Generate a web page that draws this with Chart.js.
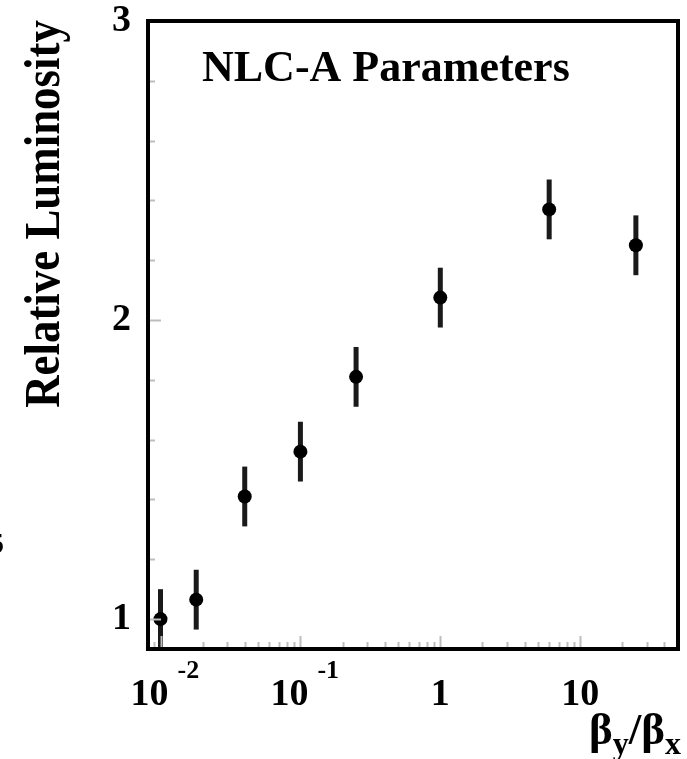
<!DOCTYPE html>
<html><head><meta charset="utf-8">
<script src="https://cdn.jsdelivr.net/npm/chart.js@4/dist/chart.umd.min.js"></script>
<style>html,body{margin:0;padding:0;background:#fff;overflow:hidden}canvas{display:block}</style>
</head><body>
<canvas id="c" width="687" height="759"></canvas>
<script>
// ---- data ----
const betaRatio   = [0.01, 0.018, 0.04, 0.1, 0.25, 1, 6, 25];          // beta_y / beta_x
const luminosity  = [1.0, 1.065, 1.41, 1.56, 1.81, 2.075, 2.37, 2.25];  // relative luminosity
const lumError    = [0.1, 0.1, 0.1, 0.1, 0.1, 0.1, 0.1, 0.1];
const yTickValues = [1, 2, 3];
const yTickLabels = ['1', '2', '3'];
const xTickValues = [0.01, 0.1, 1, 10];
const xTickBases  = ['10', '10', '1', '10'];
const xTickExps   = ['-2', '-1', '', ''];
const panelTitle  = 'NLC-A Parameters';
const yAxisTitle  = 'Relative Luminosity';
const yMinorStep  = 0.2;

const SERIF = "'Liberation Serif', 'Times New Roman', serif";

const decor = {
  id: 'decor',
  beforeDatasetsDraw(chart) {
    const {ctx, chartArea: a, scales: {x, y}} = chart;
    ctx.save();
    ctx.beginPath();
    ctx.rect(a.left, a.top, a.right - a.left, a.bottom - a.top);
    ctx.clip();
    ctx.strokeStyle = '#1a1a1a';
    ctx.lineWidth = 5;
    ctx.lineCap = 'butt';
    betaRatio.forEach((bx, i) => {
      const px = x.getPixelForValue(bx);
      ctx.beginPath();
      ctx.moveTo(px, y.getPixelForValue(luminosity[i] - lumError[i]));
      ctx.lineTo(px, y.getPixelForValue(luminosity[i] + lumError[i]));
      ctx.stroke();
    });
    ctx.restore();
  },
  afterDraw(chart) {
    const {ctx, chartArea: a, scales: {x, y}} = chart;
    ctx.save();
    // inside ticks
    ctx.strokeStyle = '#bdbdbd';
    ctx.lineWidth = 2;
    for (let e = -3; e <= 2; e++) {
      for (let k = 1; k <= 9; k++) {
        const v = k * Math.pow(10, e);
        if (v < x.min || v > x.max) continue;
        const px = Math.round(x.getPixelForValue(v)) + 0.5;
        const len = k === 1 ? 13 : 7;
        ctx.beginPath(); ctx.moveTo(px, a.bottom); ctx.lineTo(px, a.bottom - len); ctx.stroke();
      }
    }
    for (let v = yTickValues[0]; v <= y.max + 1e-9; v += yMinorStep) {
      const vv = Math.round(v * 10) / 10;
      const py = Math.round(y.getPixelForValue(vv)) + 0.5;
      const len = Math.abs(vv - Math.round(vv)) < 1e-6 ? 13 : 7;
      ctx.beginPath(); ctx.moveTo(a.left, py); ctx.lineTo(a.left + len, py); ctx.stroke();
    }
    // frame
    ctx.strokeStyle = '#000';
    ctx.lineWidth = 4;
    ctx.strokeRect(a.left, a.top, a.right - a.left, a.bottom - a.top);

    // x tick labels with exponents
    ctx.fillStyle = '#000';
    ctx.textBaseline = 'alphabetic';
    xTickValues.forEach((v, i) => {
      const px = x.getPixelForValue(v);
      ctx.font = 'bold 38px ' + SERIF;
      if (xTickExps[i]) {
        ctx.textAlign = 'right';
        ctx.fillText(xTickBases[i], px + 8, 705);
        ctx.font = 'bold 26px ' + SERIF;
        ctx.textAlign = 'left';
        ctx.fillText(xTickExps[i], px + 17, 678);
      } else {
        ctx.textAlign = 'center';
        ctx.fillText(xTickBases[i], px, 705);
      }
    });

    // x axis title: beta_y / beta_x
    const parts = [
      {t: '\u03B2', f: 'bold 45px ', dy: 0},
      {t: 'y', f: 'bold 32px ', dy: 10},
      {t: '/', f: 'bold 45px ', dy: 0},
      {t: '\u03B2', f: 'bold 45px ', dy: 0},
      {t: 'x', f: 'bold 32px ', dy: 10}
    ];
    let total = 0;
    parts.forEach(p => { ctx.font = p.f + SERIF; p.w = ctx.measureText(p.t).width; total += p.w; });
    let cx = 681 - total;
    ctx.textAlign = 'left';
    parts.forEach(p => { ctx.font = p.f + SERIF; ctx.fillText(p.t, cx, 744 + p.dy); cx += p.w; });

    // panel title
    ctx.font = 'bold 44px ' + SERIF;
    ctx.textAlign = 'left';
    ctx.fillText(panelTitle, 202, 81);

    // y axis title (condensed, rotated)
    ctx.save();
    ctx.translate(59, 214);
    ctx.rotate(-Math.PI / 2);
    ctx.scale(0.88, 1);
    ctx.font = 'bold 51px ' + SERIF;
    ctx.textAlign = 'center';
    ctx.fillText(yAxisTitle, 0, 0);
    ctx.restore();

    // clipped glyph fragment at the left edge
    ctx.font = 'bold 30px ' + SERIF;
    ctx.textAlign = 'right';
    ctx.fillText('5', 4, 553);
    ctx.restore();
  }
};

new Chart(document.getElementById('c'), {
  type: 'scatter',
  data: {
    datasets: [{
      data: betaRatio.map((bx, i) => ({x: bx, y: luminosity[i]})),
      pointRadius: 7,
      pointBackgroundColor: '#000',
      pointBorderWidth: 0,
      showLine: false
    }]
  },
  options: {
    responsive: false,
    animation: false,
    devicePixelRatio: 1,
    layout: {padding: {top: 21, right: 9, left: 0, bottom: 0}},
    plugins: {legend: {display: false}, tooltip: {enabled: false}},
    scales: {
      x: {
        type: 'logarithmic', min: 0.00814, max: 50,
        grid: {display: false, drawTicks: false}, border: {display: false},
        ticks: {display: false},
        afterFit(s) { s.height = 110; s.paddingLeft = 0; s.paddingRight = 0; }
      },
      y: {
        type: 'linear', min: 0.9, max: 3,
        grid: {display: false, drawTicks: false}, border: {display: false},
        afterBuildTicks(s) { s.ticks = yTickValues.map(v => ({value: v})); },
        ticks: {
          color: '#000', padding: 17,
          font: {family: SERIF, weight: 'bold', size: 38},
          callback: (v, i) => yTickLabels[i]
        },
        afterFit(s) { s.width = 148; s.paddingTop = 0; s.paddingBottom = 0; }
      }
    }
  },
  plugins: [decor]
});
</script>
</body></html>
